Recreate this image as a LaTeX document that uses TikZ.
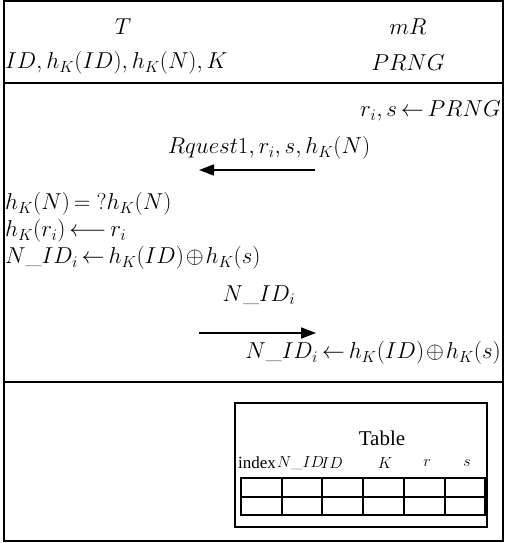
\RequirePackage{fix-cm}
\documentclass[tikz,border=0pt]{standalone}
\usepackage{fontspec}
\newfontfamily\timesf{Liberation Serif}
\usetikzlibrary{arrows.meta}
\newcommand\mybigfont{\fontsize{23}{27}\selectfont\thickmuskip=3mu\medmuskip=1.5mu\relax}
\begin{document}
\begin{tikzpicture}[x=1pt,y=-1pt,
  big/.style={font=\mybigfont, inner sep=0pt},
  hdr/.style={font=\fontsize{16}{19}\selectfont, inner sep=0pt},
  frame/.style={line width=1.4pt},
  msg/.style={line width=1.6pt, -{Triangle[length=15pt,width=11pt]}},
  rule/.style={line width=1.2pt}]
\useasboundingbox (0,0) rectangle (507,543);
\draw[frame] (4,1) rectangle (503,541);
% headers
\node[big] (T) at (123,27) {$T$};
\node[big] (mR) at (408,27) {$mR$};
\node[big, anchor=west] (Tvars) at (5,63) {$ID,h_K(ID),h_K(N),K$};
\node[big] (prng) at (408,63) {$PRNG$};
\draw[rule] (5,83) -- (502,83);
% step 1
\node[big, anchor=east] (gen) at (501,111) {$r_i,s\leftarrow PRNG$};
\node[big] (m1) at (269,148) {$Rquest1,r_i,s,h_K(N)$};
\coordinate (m1s) at (315,170);
\coordinate (m1e) at (199,170);
\draw[msg] (m1s) -- (m1e);
% tag side
\node[big, anchor=west] (chk) at (5,204) {$h_K(N)=\mkern5mu?h_K(N)$};
\node[big, anchor=west] (hr) at (5,231) {$h_K(r_i)\longleftarrow r_i$};
\node[big, anchor=west] (nid) at (5,258) {$N\_ID_i\leftarrow h_K(ID)\oplus h_K(s)$};
% step 2
\node[big] (m2) at (259,295) {$N\_ID_i$};
\coordinate (m2s) at (199,333);
\coordinate (m2e) at (316,333);
\draw[msg] (m2s) -- (m2e);
\node[big, anchor=east] (nid2) at (501,353) {$N\_ID_i\leftarrow h_K(ID)\oplus h_K(s)$};
\draw[rule] (5,382) -- (502,382);
% table
\draw[line width=1.1pt] (235,403) rectangle (487,527);
\node[font=\fontsize{21}{25}\selectfont\timesf, inner sep=0pt] (tbl) at (382,438) {Table};
\node[hdr, anchor=west] (cidx) at (238,463) {\fontsize{17}{20}\selectfont\timesf index};
\node[hdr, anchor=west] (cnid) at (277,463) {$N\_ID$};
\node[hdr, anchor=west] (cid) at (321,463) {$ID$};
\node[hdr] (ck) at (385,463) {$K$};
\node[hdr] (cr) at (427,463) {$r$};
\node[hdr] (cs) at (467,463) {$s$};
\draw[line width=1.3pt] (241,478) rectangle (485,515);
\draw[line width=1.1pt] (241,497) -- (485,497);
\foreach \xx in {282,322,363,404,445} \draw[line width=1.1pt] (\xx,478) -- (\xx,515);
\end{tikzpicture}
\end{document}
